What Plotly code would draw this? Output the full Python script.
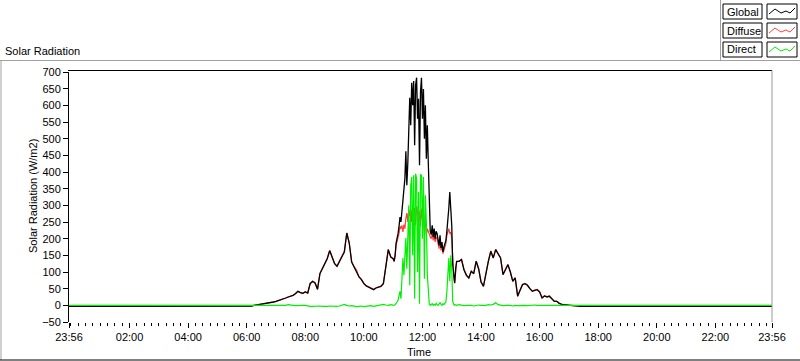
import plotly.graph_objects as go

# ---------------- data ----------------
# x positions in minutes after midnight (first point is 23:56 of previous day)
time_min = ([-4] + list(range(360, 660, 5)) + list(range(660, 792, 2))
            + list(range(795, 1085, 5)) + [1436])

night_global = -3
night_diffuse = -3
night_direct = 0

global_morning = [-3, -3, -2, 0, 1, 2, 3, 4, 5, 7, 8, 10, 12, 14, 17, 19, 22, 25, 27, 30,
                  35, 42, 38, 36, 40, 37, 65, 72, 67, 48, 95, 110, 127, 140, 164, 142, 125, 117, 130, 147,
                  160, 217, 187, 130, 115, 105, 85, 77, 65, 58, 55, 50, 47, 52, 55, 57, 65, 125, 167, 145]
global_midday = [140, 132, 150, 187, 200, 215, 237, 265, 250, 282,
                 300, 332, 380, 462, 360, 427, 520, 623, 540, 668,
                 600, 673, 480, 660, 683, 560, 620, 420, 640, 683,
                 560, 649, 500, 600, 440, 540, 427, 300, 222, 212,
                 240, 205, 230, 200, 222, 215, 198, 180, 210, 172,
                 190, 160, 175, 183, 195, 222, 250, 292, 340, 302,
                 240, 122, 90, 67, 110, 132]
global_afternoon = [132, 137, 107, 90, 82, 102, 95, 132, 110, 70,
                    57, 97, 132, 162, 142, 167, 155, 142, 92, 110,
                    122, 100, 72, 82, 27, 45, 62, 65, 60, 50,
                    42, 45, 47, 40, 22, 28, 25, 27, 18, 12,
                    12, 6, 3, 2, 1, 0, -1, -2, -3,
                    -3, -3, -3, -3, -3, -3, -3, -3, -3]

diffuse_morning = [-3, -3, -2, 0, 1, 2, 3, 4, 5, 7, 8, 10, 12, 14, 17, 19, 22, 25, 28, 30,
                   36, 42, 38, 36, 41, 37, 66, 72, 67, 48, 96, 112, 128, 141, 165, 143, 126, 118, 131, 148,
                   162, 217, 188, 131, 116, 106, 86, 78, 66, 59, 56, 51, 48, 53, 56, 58, 66, 126, 168, 146]
diffuse_midday = [140, 132, 148, 180, 190, 200, 215, 237, 230, 240,
                  220, 242, 230, 260, 277, 250, 287, 267, 290, 250,
                  302, 270, 292, 240, 297, 280, 252, 282, 237, 290,
                  260, 275, 240, 250, 213, 230, 220, 210, 205, 200,
                  215, 195, 210, 190, 205, 200, 185, 170, 195, 165,
                  178, 155, 165, 175, 185, 210, 225, 230, 215, 220,
                  200, 120, 88, 66, 108, 130]
diffuse_afternoon = [133, 138, 108, 91, 83, 103, 96, 133, 111, 71,
                     58, 98, 133, 163, 143, 168, 156, 143, 93, 111,
                     123, 101, 73, 83, 28, 46, 63, 66, 61, 51,
                     43, 46, 48, 41, 23, 29, 26, 28, 19, 13,
                     13, 7, 4, 2, 1, 0, -1, -2, -3,
                     -3, -3, -3, -3, -3, -3, -3, -3, -3]

direct_morning = [0, 0, 0, 0, -1, 0, 1, 0, 0, -1, 0, 1, 0, 0, 0, -1, 0, 2, 0, 0,
                  -1, 0, 1, 0, 0, -2, -3, -3, -2, -3, -2, -3, -4, -3, -2, -3, -4, -3, -2, 0,
                  3, 0, -2, -1, -3, -4, -3, -2, -4, -3, -2, -1, -3, -2, -1, 0, 3, 1, 0, 2]
direct_midday = [0, 0, 2, 5, 10, 15, 25, 42, 20, 82,
                 142, 90, 172, 202, 110, 232, 300, 60, 360, 385,
                 150, 390, 20, 395, 380, 100, 340, 5, 393, 390,
                 200, 385, 80, 330, 250, 92, 22, 3, 0, 2,
                 5, 0, 3, 0, 6, 2, 0, 4, 8, 3,
                 0, 5, 2, 6, 10, 40, 112, 142, 72, 150,
                 112, 12, 3, 0, 2, 0]
direct_afternoon = [2, 0, -1, 0, 1, 0, -2, 0, 1, 0,
                    -1, 0, 2, 1, 3, 8, 2, 0, -1, 0,
                    1, 0, -2, 0, -1, 0, 1, 0, -1, 0,
                    0, 1, 0, 0, -1, 0, 0, 1, 0, 0,
                    0, -1, 0, 0, 0, 0, 0, 0, 0,
                    0, 0, 0, 0, 0, 0, 0, 0, 0]

global_vals = [night_global] + global_morning + global_midday + global_afternoon + [night_global]
diffuse_vals = [night_diffuse] + diffuse_morning + diffuse_midday + diffuse_afternoon + [night_diffuse]
direct_vals = [night_direct] + direct_morning + direct_midday + direct_afternoon + [night_direct]

x_tick_min = [-4, 120, 240, 360, 480, 600, 720, 840, 960, 1080, 1200, 1320, 1436]
x_tick_text = ["23:56", "02:00", "04:00", "06:00", "08:00", "10:00", "12:00",
               "14:00", "16:00", "18:00", "20:00", "22:00", "23:56"]
y_ticks = list(range(-50, 701, 50))

series_names = ["Global", "Diffuse", "Direct"]
series_colors = ["#000000", "#ff4040", "#00f000"]

# ---------------- figure ----------------
L, R, T, B = 69, 772, 72, 322  # plot area in pixels
W, H = 800, 361


def px(xp):
    return (xp - L) / (R - L)


def py(yp):
    return (B - yp) / (B - T)


fig = go.Figure()
for name, vals, col, lw in [("Diffuse", diffuse_vals, series_colors[1], 1.2),
                            ("Global", global_vals, series_colors[0], 1.3),
                            ("Direct", direct_vals, series_colors[2], 1.2)]:
    fig.add_trace(go.Scatter(x=time_min, y=vals, mode="lines", name=name,
                             line=dict(color=col, width=lw), showlegend=False))

font_family = "Liberation Sans, Arial, sans-serif"
fig.update_layout(
    width=W, height=H,
    margin=dict(l=L, r=W - R, t=T, b=H - B),
    paper_bgcolor="white", plot_bgcolor="white",
    font=dict(family=font_family, size=11, color="black"),
    showlegend=False,
)
fig.update_xaxes(
    range=[-4, 1436], tickmode="array", tickvals=x_tick_min, ticktext=x_tick_text,
    ticks="outside", ticklen=5, tickcolor="black", tickwidth=1,
    showgrid=False, zeroline=False, showline=False,
    tickfont=dict(size=11),
    minor=dict(tickmode="linear", tick0=0, dtick=15, ticks="outside", ticklen=3,
               tickcolor="black", showgrid=False),
)
fig.update_yaxes(
    range=[-50, 700], tickmode="array", tickvals=y_ticks,
    ticks="outside", ticklen=5, tickcolor="black",
    showgrid=False, zeroline=False, showline=True, linecolor="black", linewidth=1,
    tickfont=dict(size=11),
)

shapes = []
annotations = []
# plot frame: top black, right gray
shapes.append(dict(type="line", xref="paper", yref="paper", x0=px(68), x1=px(772), y0=py(70.5), y1=py(70.5),
                   line=dict(color="black", width=1)))
shapes.append(dict(type="line", xref="paper", yref="paper", x0=px(772), x1=px(772), y0=py(70.5), y1=py(322),
                   line=dict(color="#999999", width=1)))
# outer panel
shapes.append(dict(type="line", xref="paper", yref="paper", x0=px(0), x1=px(800), y0=py(60.5), y1=py(60.5),
                   line=dict(color="#a0a0a0", width=1)))
shapes.append(dict(type="line", xref="paper", yref="paper", x0=px(1), x1=px(1), y0=py(60.5), y1=py(360),
                   line=dict(color="#a0a0a0", width=1)))
shapes.append(dict(type="line", xref="paper", yref="paper", x0=px(0), x1=px(800), y0=py(360), y1=py(360),
                   line=dict(color="black", width=1)))
# legend panel
shapes.append(dict(type="line", xref="paper", yref="paper", x0=px(720.5), x1=px(720.5), y0=py(0), y1=py(60.5),
                   line=dict(color="#a0a0a0", width=1)))

row_tops = [4, 23, 42]
for name, col, top in zip(series_names, series_colors, row_tops):
    shapes.append(dict(type="rect", xref="paper", yref="paper", x0=px(723), x1=px(762),
                       y0=py(top), y1=py(top + 15), line=dict(color="black", width=1), fillcolor="white"))
    shapes.append(dict(type="rect", xref="paper", yref="paper", x0=px(767), x1=px(797),
                       y0=py(top), y1=py(top + 15), line=dict(color="black", width=1), fillcolor="white"))
    pts = [(769, top + 10), (775, top + 5), (781, top + 9), (786, top + 7), (790, top + 9), (795, top + 4)]
    path = "M " + " L ".join(f"{px(a):.5f},{py(b):.5f}" for a, b in pts)
    shapes.append(dict(type="path", xref="paper", yref="paper", path=path,
                       line=dict(color=col, width=1)))
    annotations.append(dict(xref="paper", yref="paper", x=px(725), y=py(top + 7.5), text=name,
                            showarrow=False, xanchor="left", yanchor="middle",
                            font=dict(size=11, family=font_family)))

annotations.append(dict(xref="paper", yref="paper", x=px(3), y=py(51), text="Solar Radiation",
                        showarrow=False, xanchor="left", yanchor="middle", font=dict(size=11)))
annotations.append(dict(xref="paper", yref="paper", x=px(33), y=py(196), text="Solar Radiation (W/m2)",
                        showarrow=False, xanchor="center", yanchor="middle", textangle=-90,
                        font=dict(size=11)))
annotations.append(dict(xref="paper", yref="paper", x=px(419), y=py(352), text="Time",
                        showarrow=False, xanchor="center", yanchor="middle", font=dict(size=11)))

fig.update_layout(shapes=shapes, annotations=annotations)
fig.write_html("out.html",
               config={"displayModeBar": False},
               post_script="document.body.style.margin='0px';document.body.style.overflow='hidden';")
